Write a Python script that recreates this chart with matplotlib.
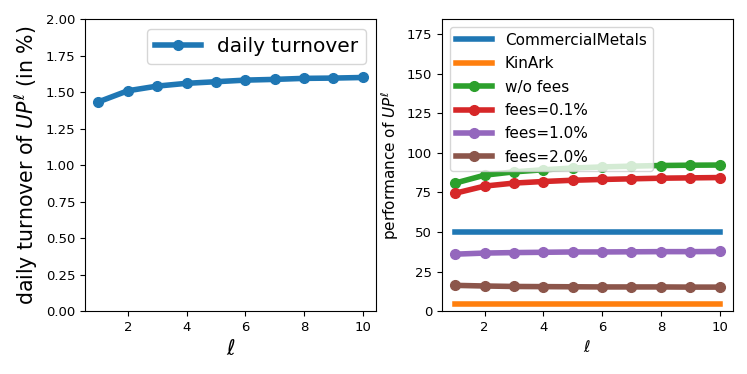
import numpy as np
import matplotlib
matplotlib.use('Agg')
import matplotlib.pyplot as plt

ell = [1, 2, 3, 4, 5, 6, 7, 8, 9, 10]
turnover = [1.433, 1.509, 1.541, 1.560, 1.571, 1.582, 1.587, 1.594, 1.596, 1.600]

commercial_metals = 49.7
kinark = 4.4
wo_fees = [80.9, 85.9, 88.0, 89.3, 90.4, 91.1, 91.6, 92.0, 92.2, 92.3]
fees_01 = [74.5, 79.0, 80.9, 81.9, 82.7, 83.2, 83.6, 84.0, 84.2, 84.4]
fees_10 = [36.0, 36.7, 37.0, 37.2, 37.4, 37.4, 37.5, 37.6, 37.6, 37.7]
fees_20 = [16.3, 15.9, 15.6, 15.5, 15.4, 15.3, 15.3, 15.3, 15.2, 15.2]

fig, (ax1, ax2) = plt.subplots(1, 2, figsize=(7.47, 3.74), dpi=100)
fig.subplots_adjust(left=0.114, right=0.981, top=0.949, bottom=0.168, wspace=0.227)

ax1.plot(ell, turnover, '-o', color='C0', lw=4, ms=7, label='daily turnover')
ax1.set_ylim(0, 2.0)
ax1.set_xticks([2, 4, 6, 8, 10])
ax1.set_xlabel(r'$\ell$', fontsize=15)
ax1.set_ylabel(r'daily turnover of $UP^\ell$ (in %)', fontsize=14.8)
ax1.legend(loc='upper right', fontsize=14.5, handlelength=2.25)
ax1.tick_params(labelsize=9.5)

ax2.plot(ell, [commercial_metals] * len(ell), '-', color='C0', lw=4, label='CommercialMetals')
ax2.plot(ell, [kinark] * len(ell), '-', color='C1', lw=4, label='KinArk')
ax2.plot(ell, wo_fees, '-o', color='C2', lw=4, ms=7, label='w/o fees')
ax2.plot(ell, fees_01, '-o', color='C3', lw=4, ms=7, label='fees=0.1%')
ax2.plot(ell, fees_10, '-o', color='C4', lw=4, ms=7, label='fees=1.0%')
ax2.plot(ell, fees_20, '-o', color='C5', lw=4, ms=7, label='fees=2.0%')
ax2.set_ylim(0, 184.5)
ax2.set_xticks([2, 4, 6, 8, 10])
ax2.set_xlabel(r'$\ell$', fontsize=11.5)
ax2.set_ylabel(r'performance of $UP^\ell$', fontsize=11)
ax2.legend(loc='upper left', fontsize=11, handlelength=2.4, labelspacing=0.55)
ax2.tick_params(labelsize=9.5)

fig.savefig('out.png', dpi=100)
